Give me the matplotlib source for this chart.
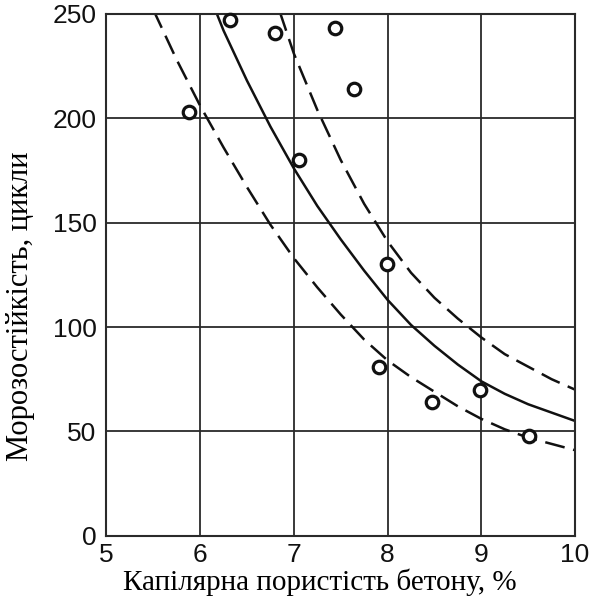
import numpy as np
import matplotlib
matplotlib.use("Agg")
import matplotlib.pyplot as plt

# measured points
por_pts = [5.88, 6.32, 6.80, 7.44, 7.64, 7.06, 7.99, 7.91, 8.47, 8.99, 9.51]
frost_pts = [203, 247, 241, 243, 214, 180, 130, 81, 64, 70, 48]

# mean curve (solid)
x_mid = [6.17, 6.25, 6.5, 6.75, 7.0, 7.25, 7.5, 7.75, 8.0, 8.25, 8.5, 8.75, 9.0, 9.25, 9.5, 9.75, 10.0]
y_mid = [251, 242, 218, 196, 176, 158, 142, 127, 113, 101, 91, 82, 74, 68, 63, 59, 55]

# lower bound (dashed)
x_low = [5.5, 5.75, 6.0, 6.25, 6.5, 6.75, 7.0, 7.25, 7.5, 7.75, 8.0, 8.25, 8.5, 8.75, 9.0, 9.25, 9.5, 9.75, 10.0]
y_low = [252, 228, 206, 186, 167, 149, 133, 119, 106, 94, 84, 76, 69, 62, 56, 51, 47, 44, 41]

# upper bound (dashed)
x_up = [6.85, 7.0, 7.25, 7.5, 7.75, 8.0, 8.25, 8.5, 8.75, 9.0, 9.25, 9.5, 9.75, 10.0]
y_up = [251, 231, 204, 180, 159, 141, 126, 114, 104, 95, 87, 81, 75, 70]

xticks = [5, 6, 7, 8, 9, 10]
yticks = [0, 50, 100, 150, 200, 250]

fig = plt.figure(figsize=(5.91, 6.02), dpi=100)
ax = fig.add_axes([0.180, 0.110, 0.793, 0.867])

ax.set_xlim(5, 10)
ax.set_ylim(0, 250)
ax.set_xticks(xticks)
ax.set_yticks(yticks)
ax.grid(True, color="#2a2a2a", linewidth=1.3)
ax.set_axisbelow(True)
for s in ax.spines.values():
    s.set_color("#2a2a2a")
    s.set_linewidth(1.5)

ax.tick_params(length=0, labelsize=19, colors="#111111")
ax.tick_params(axis="x", pad=5)
ax.tick_params(axis="y", pad=7)
for lab in ax.get_xticklabels() + ax.get_yticklabels():
    lab.set_family("Liberation Sans")

ax.plot(x_mid, y_mid, color="#111111", lw=1.8)
ax.plot(x_low, y_low, color="#111111", lw=1.8, dashes=(8, 3.5))
ax.plot(x_up, y_up, color="#111111", lw=1.8, dashes=(8, 3.5))
ax.plot(por_pts, frost_pts, "o", ms=9, mfc="white", mec="#111111", mew=2.3, clip_on=False, zorder=5)

ax.set_xlabel("Капілярна пористість бетону, %", family="Liberation Serif", fontsize=21)
ax.set_ylabel("Морозостійкість, цикли", family="Liberation Serif", fontsize=22)
ax.xaxis.set_label_coords(0.455, -0.062)
ax.yaxis.set_label_coords(-0.153, 0.44)

fig.savefig("out.png", dpi=100, facecolor="white")
